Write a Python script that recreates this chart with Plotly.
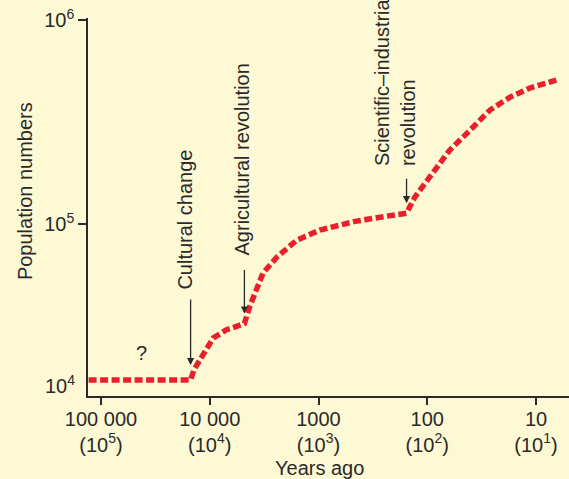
import numpy as np
import plotly.graph_objects as go

# Human population through time (schematic)
years_ago = [130000, 15000, 14000, 12000, 9300, 7000, 4800, 4300, 3240, 2410,
             1580, 969, 462, 272, 155, 130, 94, 62, 43, 26.5, 17.3, 11.4, 6.4]
population = [10000, 10000, 11600, 14000, 18600, 21000, 23000, 29400, 48500, 61400,
              78900, 91500, 103000, 108000, 113000, 135500, 170000, 230500, 279000,
              362000, 419000, 464000, 508000]

event_labels = ["Cultural change", "Agricultural revolution",
                "Scientific\u2013industrial<br>revolution"]
event_years = [15000, 4800, 155]
event_population = [10000, 23000, 113000]

x_tick_years = [100000, 10000, 1000, 100, 10]
x_tick_text = ["100 000<br>(10<sup>5</sup>)", "10 000<br>(10<sup>4</sup>)",
               "1000<br>(10<sup>3</sup>)", "100<br>(10<sup>2</sup>)", "10<br>(10<sup>1</sup>)"]
y_tick_pop = [1e5, 1e6]
y_tick_text = ["10<sup>5</sup>", "10<sup>6</sup>"]

# Vertical scale: log above 10^5, the lowest decade drawn compressed
LOW_DECADE = 156 / 204


def ypos(p):
    lg = np.log10(np.asarray(p, dtype=float))
    return np.where(lg >= 5, lg, 5 - (5 - lg) * LOW_DECADE)


BG = "#FEF9D5"
INK = "#2a2a2a"
RED = "#E8202B"
FONT = "Liberation Sans, Arial, sans-serif"
FS = 20

fig = go.Figure()
fig.add_trace(go.Scatter(
    x=years_ago, y=ypos(population), mode="lines",
    line=dict(color=RED, width=5.5, dash="8px,3.5px"),
    hoverinfo="skip", showlegend=False,
))

annotations = []
# arrows pointing to the turning points
arrow_len = [-82, -55, -36]
standoffs = [15, 10, 10]
for yr, p, ay, so in zip(event_years, event_population, arrow_len, standoffs):
    annotations.append(dict(
        x=np.log10(yr), y=float(ypos(p)), xref="x", yref="y", text="",
        showarrow=True, ax=0, ay=ay, arrowhead=2, arrowsize=1.1,
        arrowwidth=1.3, arrowcolor=INK, standoff=so,
    ))

# event labels, rotated, reading upwards
label_bottom = [4.6667, 4.838, 5.2745]
label_shift = [-6, -2, -12]
for txt, yr, yb, xs in zip(event_labels, event_years, label_bottom, label_shift):
    annotations.append(dict(
        x=np.log10(yr), y=yb, xref="x", yref="y", text=txt, textangle=-90,
        showarrow=False, xanchor="center", yanchor="bottom", align="left",
        xshift=xs, font=dict(family=FONT, size=FS, color=INK),
    ))

annotations += [
    dict(x=np.log10(42000), y=4.3676, xref="x", yref="y", text="?",
         showarrow=False, font=dict(family=FONT, size=FS, color=INK)),
    dict(x=np.log10(130000), y=float(ypos(1e4)), xref="x", yref="y",
         text="10<sup>4</sup>", showarrow=False, xanchor="right", yanchor="middle",
         xshift=-12, yshift=-4, font=dict(family=FONT, size=FS, color=INK)),
    dict(x=0.482, y=-0.19, xref="paper", yref="paper", text="Years ago",
         showarrow=False, xanchor="center", yanchor="middle",
         font=dict(family=FONT, size=FS, color=INK)),
    dict(x=-0.131, y=0.542, xref="paper", yref="paper", text="Population numbers",
         textangle=-90, showarrow=False, xanchor="center", yanchor="middle",
         font=dict(family=FONT, size=FS, color=INK)),
]

fig.update_layout(
    width=569, height=479,
    margin=dict(l=88, r=0, t=18, b=83),
    paper_bgcolor=BG, plot_bgcolor=BG,
    font=dict(family=FONT, size=FS, color=INK),
    showlegend=False,
    annotations=annotations,
    xaxis=dict(
        type="log", range=[5.1195, 0.6966],
        tickvals=x_tick_years, ticktext=x_tick_text,
        ticks="outside", ticklen=7, tickwidth=1.5, tickcolor=INK,
        ticklabelstandoff=-3,
        showline=True, linecolor=INK, linewidth=1.5,
        showgrid=False, zeroline=False,
        tickfont=dict(family=FONT, size=FS, color=INK),
    ),
    yaxis=dict(
        range=[4.157, 6.0098],
        tickvals=list(ypos(y_tick_pop)), ticktext=y_tick_text,
        ticks="outside", ticklen=8, tickwidth=1.5, tickcolor=INK,
        showline=True, linecolor=INK, linewidth=1.5,
        showgrid=False, zeroline=False,
        tickfont=dict(family=FONT, size=FS, color=INK),
    ),
)

fig.write_html("out.html")
